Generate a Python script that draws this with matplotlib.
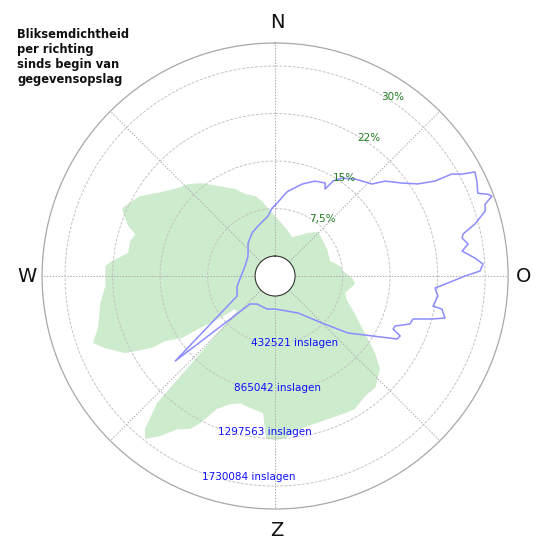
#!/usr/bin/env python3
"""Polar lightning-density rose: strikes per direction plus density percentage."""

import matplotlib

matplotlib.use("Agg")
import matplotlib.pyplot as plt
import numpy as np

FILL = "#cdebcd"
LINE = "#8c8cff"
RING = "#c4c4c4"
SPOKE = "#acacac"
SPINE = "#a8a8a8"
PCT_TXT = "#1f7a1f"
CNT_TXT = "#1010ff"

TITLE = "Bliksemdichtheid\nper richting\nsinds begin van\ngegevensopslag"
COMPASS = ["N", "O", "Z", "W"]

# strike counts per direction (bearing in degrees, clockwise from north)
strike_dir = [
    0, 7.7, 16.1, 23.5, 28.8, 36.7, 44.3, 53.9, 62.6, 74.7, 81.3, 85.8,
    92.2, 95.7, 103.6, 109, 114, 119.5, 121, 127.6, 131.5, 138, 143, 149,
    153, 159.7, 172.6, 176.5, 180, 183.2, 185.0, 189.4, 195.4, 199.4, 203.6,
    207, 209, 212.6, 215.7, 218.6, 220.4, 222.9, 227.4, 230.5, 233.1, 235.5,
    236.3, 239.4, 239.7, 242.8, 247, 249.8, 254, 261, 266.6, 273.4, 275.3,
    278.9, 283.6, 286.7, 288.8, 292.5, 294, 297.7, 300.6, 305.4, 312.2,
    316.6, 321.9, 327.7, 335.3, 340, 346, 350, 354,
]
strike_count = [
    364000, 296000, 244000, 205000, 233000, 306000, 378000, 359000, 351000,
    337000, 417000, 439000, 528000, 550000, 473000, 512000, 596000, 707000,
    747000, 965000, 1093000, 1184000, 1184000, 1229000, 1220000, 1207000,
    1238000, 1302000, 1311000, 1302000, 1070000, 1047000, 1020000, 1056000,
    1138000, 1320000, 1411000, 1475000, 1612000, 1716000, 1646000, 1393000,
    291000, 291000, 501000, 669000, 836000, 982000, 1115000, 1353000,
    1499000, 1584000, 1493000, 1430000, 1366000, 1366000, 1308000, 1173000,
    1175000, 1147000, 1229000, 1316000, 1339000, 1288000, 1247000, 1125000,
    1011000, 971000, 892000, 788000, 690000, 613000, 569000, 510000, 440000,
]

# lightning density in percent per direction
density_dir = [
    0, 8.2, 16.4, 22.8, 28.3, 29.9, 31.4, 34.4, 39.5, 46.5, 49.2, 53.8, 57.2,
    59.3, 60.0, 61.4, 62.5, 64.8, 67.8, 69.0, 69.8, 71.1, 72.8, 75.4, 77.4,
    78.5, 80.6, 82.4, 84.9, 86.7, 88.6, 90.0, 92.3, 94.3, 97.0, 100.8, 101.2,
    103.9, 105.3, 107.3, 109.6, 112.6, 114.2, 115.6, 117.3, 121.7, 128.0,
    135.0, 148.0, 180.0, 193.6, 212.7, 221.8, 229.6, 242.2, 255, 275, 288,
    306.5, 320.7, 331.9, 341.2, 353.3, 357.5, 360,
]
density_pct = [
    8.0, 10.3, 11.98, 13.1, 13.52, 12.68, 14.42, 15.58, 16.69, 17.95, 19.78,
    21.69, 23.68, 26.21, 29.05, 30.47, 32.43, 32.05, 31.42, 32.84, 33.32,
    31.89, 31.58, 29.46, 27.25, 26.97, 27.73, 26.64, 28.55, 29.73, 29.21,
    26.84, 24.16, 22.17, 22.74, 22.23, 23.68, 24.47, 22.55, 19.66, 19.42,
    17.37, 17.27, 18.74, 18.52, 14.84, 11.46, 7.34, 3.73, 2.05, 2.21, 2.10,
    2.76, 17.53, 3.63, 3.05, 2.05, 1.83, 2.15, 3.57, 4.55, 5.18, 6.38, 7.58,
    8.0,
]

ring_counts = [432521, 865042, 1297563, 1730084]
ring_pct = [7.5, 15, 22.5, 30]
ring_pct_labels = ["7,5%", "15%", "22%", "30%"]


def main():
    fig = plt.figure(figsize=(5.5, 5.5), dpi=100)
    ax = fig.add_axes([0.0765, 0.0745, 0.8473, 0.8473], projection="polar")
    ax.set_theta_zero_location("N")
    ax.set_theta_direction(-1)

    unit = ring_counts[0] / 47.5  # strikes per pixel
    ax.set_rorigin(-20 * unit)
    ax.set_ylim(0, 213 * unit)

    # percent scale shares the rings: 7.5 % on the first ring
    pct_to_count = ring_counts[0] / ring_pct[0]

    ax.fill(np.radians(strike_dir), strike_count, color=FILL, lw=0, zorder=1)
    ax.plot(np.radians(density_dir), np.array(density_pct) * pct_to_count,
            color=LINE, lw=1.1, zorder=3)

    ax.set_thetagrids(np.arange(0, 360, 45), [""] * 8)
    ax.set_yticks(ring_counts)
    ax.set_yticklabels([])
    ax.xaxis.grid(True, color=SPOKE, linestyle=(0, (1.5, 1.5)), linewidth=0.7)
    ax.yaxis.grid(True, color=RING, linestyle=(0, (3, 1.5)), linewidth=0.7)
    ax.spines["polar"].set_color(SPINE)
    ax.spines["polar"].set_linewidth(0.9)
    ax.spines["inner"].set_color("#333333")
    ax.spines["inner"].set_linewidth(0.8)

    # compass letters, a bit further out above/below than left/right
    spots = [(277, 22), (524, 276), (277, 530), (27, 276)]
    for lab, (px, py) in zip(COMPASS, spots):
        fig.text(px / 550, 1 - py / 550, lab, ha="center", va="center",
                 fontsize=14, color="#111111")

    for c in ring_counts:
        ax.text(np.radians(200), c + 0.08 * ring_counts[0], f"{c} inslagen",
                ha="left", va="center", fontsize=7.5, color=CNT_TXT)
    for p, lab in zip(ring_pct, ring_pct_labels):
        ax.text(np.radians(30.7), p * pct_to_count - 0.03 * ring_counts[0], lab,
                ha="left", va="center", fontsize=7.5, color=PCT_TXT)

    fig.text(0.031, 0.95, TITLE, ha="left", va="top", fontsize=8.3,
             fontweight="bold", color="#111111", linespacing=1.22)

    fig.savefig("out.png", dpi=100)


if __name__ == "__main__":
    main()
